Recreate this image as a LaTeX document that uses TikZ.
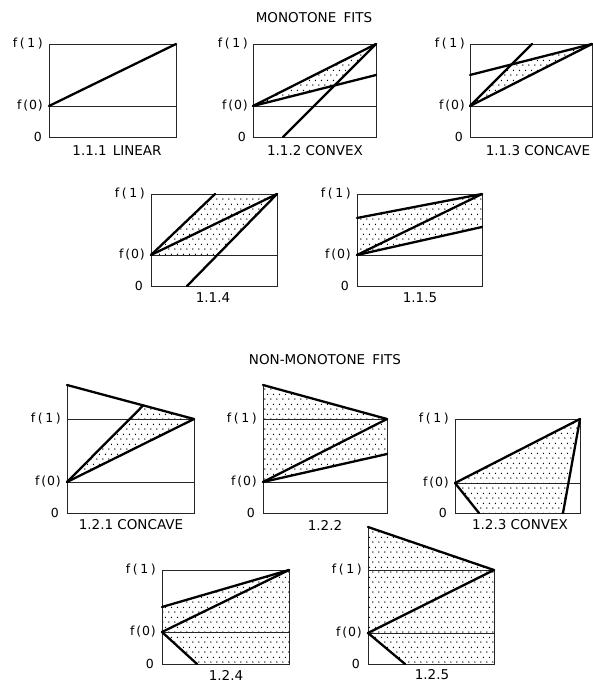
\documentclass[tikz,border=0pt]{standalone}
\usepackage{fontspec}
\setmainfont{DejaVu Sans}
\usetikzlibrary{patterns,calc}
\pgfdeclarepatternformonly{sdots}{\pgfqpoint{0pt}{0pt}}{\pgfqpoint{6pt}{9.6pt}}{\pgfqpoint{6pt}{9.6pt}}{%
  \pgfpathcircle{\pgfqpoint{1pt}{1pt}}{0.75pt}%
  \pgfpathcircle{\pgfqpoint{4pt}{5.8pt}}{0.75pt}%
  \pgfusepath{fill}}
\newcommand{\fone}{f\kern2.6pt(\kern2.6pt1\kern2.6pt)}
\newcommand{\fzero}{f\kern2pt(\kern0.8pt0\kern0.8pt)}
\begin{document}
\begin{tikzpicture}[x=1pt,y=-1pt,
  frame/.style={line width=0.9pt, draw=black!85},
  fitline/.style={line width=2.3pt, line cap=round, line join=round},
  shade/.style={pattern=sdots, pattern color=black},
  lab/.style={anchor=east, inner sep=0pt, font=\fontsize{12.5}{14}\selectfont},
  capt/.style={inner sep=0pt, font=\fontsize{13.5}{16}\selectfont},
  ttl/.style={inner sep=0pt, font=\fontsize{13.5}{16}\selectfont}]
\useasboundingbox[fill=white] (0,0) rectangle (593,682);

% titles
\node[ttl] (t1) at (314,18) {MONOTONE\hspace{3pt} FITS};
\node[ttl] (t2) at (325,360) {NON-MONOTONE\hspace{3pt} FITS};

% ---------- 1.1.1 ----------
\coordinate (a-tl) at (49,44); \coordinate (a-tr) at (176,44);
\coordinate (a-bl) at (49,137); \coordinate (a-br) at (176,137);
\coordinate (a-f0) at (49,106); \coordinate (a-f0r) at (176,106);
\draw[frame] (a-tl) rectangle (a-br);
\draw[frame] (a-f0) -- (a-f0r);
\draw[fitline] (a-f0) -- (a-tr);
\node[lab] (a-l1) at (43,44) {\fone};
\node[lab] (a-l0) at (43,106) {\fzero};
\node[lab] (a-lz) at (42,137) {0};
\node[capt] (a-c) at (117,151) {1.1.1\hspace{6pt}LINEAR};

% ---------- 1.1.2 ----------
\coordinate (b-tl) at (253,44); \coordinate (b-tr) at (376,44);
\coordinate (b-br) at (376,137);
\coordinate (b-f0) at (253,106); \coordinate (b-f0r) at (376,106);
\coordinate (b-r) at (376,75); \coordinate (b-s) at (283,137);
\coordinate (b-x) at (intersection of b-f0--b-r and b-s--b-tr);
\fill[shade] (b-f0) -- (b-tr) -- (b-x) -- cycle;
\draw[frame] (b-tl) rectangle (b-br);
\draw[frame] (b-f0) -- (b-f0r);
\draw[fitline] (b-f0) -- (b-tr);
\draw[fitline] (b-f0) -- (b-r);
\draw[fitline] (b-s) -- (b-tr);
\node[lab] (b-l1) at (248,44) {\fone};
\node[lab] (b-l0) at (248,106) {\fzero};
\node[lab] (b-lz) at (246,137) {0};
\node[capt] (b-c) at (315,151) {1.1.2 CONVEX};

% ---------- 1.1.3 ----------
\coordinate (c-tl) at (470,44); \coordinate (c-tr) at (592,44);
\coordinate (c-br) at (592,137);
\coordinate (c-f0) at (470,106); \coordinate (c-f0r) at (592,106);
\coordinate (c-l) at (470,75); \coordinate (c-s) at (532,44);
\coordinate (c-x) at (intersection of c-f0--c-s and c-l--c-tr);
\fill[shade] (c-f0) -- (c-x) -- (c-tr) -- cycle;
\draw[frame] (c-tl) rectangle (c-br);
\draw[frame] (c-f0) -- (c-f0r);
\draw[fitline] (c-f0) -- (c-tr);
\draw[fitline] (c-l) -- (c-tr);
\draw[fitline] (c-f0) -- (c-s);
\node[lab] (c-l1) at (465,44) {\fone};
\node[lab] (c-l0) at (465,106) {\fzero};
\node[lab] (c-lz) at (463,137) {0};
\node[capt] (c-c) at (538,151) {1.1.3 CONCAVE};

% ---------- 1.1.4 ----------
\coordinate (d-tl) at (151,194); \coordinate (d-tr) at (277,194);
\coordinate (d-br) at (277,286);
\coordinate (d-f0) at (151,255); \coordinate (d-f0r) at (277,255);
\coordinate (d-t) at (215,194); \coordinate (d-s) at (187,286);
\coordinate (d-x) at (intersection of d-f0--d-f0r and d-s--d-tr);
\fill[shade] (d-f0) -- (d-t) -- (d-tr) -- (d-x) -- cycle;
\draw[frame] (d-tl) rectangle (d-br);
\draw[frame] (d-f0) -- (d-f0r);
\draw[fitline] (d-f0) -- (d-t);
\draw[fitline] (d-f0) -- (d-tr);
\draw[fitline] (d-s) -- (d-tr);
\node[lab] (d-l1) at (145,194) {\fone};
\node[lab] (d-l0) at (145,255) {\fzero};
\node[lab] (d-lz) at (143,286) {0};
\node[capt] (d-c) at (213,298) {1.1.4};

% ---------- 1.1.5 ----------
\coordinate (e-tl) at (357,194); \coordinate (e-tr) at (482,194);
\coordinate (e-br) at (482,286);
\coordinate (e-f0) at (357,255); \coordinate (e-f0r) at (482,255);
\coordinate (e-l) at (357,218); \coordinate (e-r) at (482,227);
\fill[shade] (e-l) -- (e-tr) -- (e-r) -- (e-f0) -- cycle;
\draw[frame] (e-tl) rectangle (e-br);
\draw[frame] (e-f0) -- (e-f0r);
\draw[fitline] (e-l) -- (e-tr);
\draw[fitline] (e-f0) -- (e-tr);
\draw[fitline] (e-f0) -- (e-r);
\node[lab] (e-l1) at (351,194) {\fone};
\node[lab] (e-l0) at (351,255) {\fzero};
\node[lab] (e-lz) at (349,286) {0};
\node[capt] (e-c) at (420,298) {1.1.5};

% ---------- 1.2.1 ----------
\coordinate (f-tl) at (67,385); \coordinate (f-f1) at (67,419); \coordinate (f-tr) at (194,419);
\coordinate (f-bl) at (67,513); \coordinate (f-br) at (194,513);
\coordinate (f-f0) at (67,482); \coordinate (f-f0r) at (194,482);
\coordinate (f-q) at ($(f-tl)!0.6!(f-tr)$);
\fill[shade] (f-f0) -- (f-q) -- (f-tr) -- cycle;
\draw[frame] (f-tl) -- (f-bl) -- (f-br) -- (f-tr);
\draw[frame] (f-f1) -- (f-tr);
\draw[frame] (f-f0) -- (f-f0r);
\draw[fitline] (f-tl) -- (f-tr);
\draw[fitline] (f-f0) -- (f-tr);
\draw[fitline] (f-f0) -- (f-q);
\node[lab] (f-l1) at (61,419) {\fone};
\node[lab] (f-l0) at (61,482) {\fzero};
\node[lab] (f-lz) at (59,513) {0};
\node[capt] (f-c) at (131,525) {1.2.1 CONCAVE};

% ---------- 1.2.2 ----------
\coordinate (g-tl) at (263,385); \coordinate (g-f1) at (263,419); \coordinate (g-tr) at (387,419);
\coordinate (g-bl) at (263,513); \coordinate (g-br) at (387,513);
\coordinate (g-f0) at (263,482); \coordinate (g-f0r) at (387,482);
\coordinate (g-r) at (387,454);
\fill[shade] (g-tl) -- (g-tr) -- (g-r) -- (g-f0) -- cycle;
\draw[frame] (g-tl) -- (g-bl) -- (g-br) -- (g-tr);
\draw[frame] (g-f1) -- (g-tr);
\draw[frame] (g-f0) -- (g-f0r);
\draw[fitline] (g-tl) -- (g-tr);
\draw[fitline] (g-f0) -- (g-tr);
\draw[fitline] (g-f0) -- (g-r);
\node[lab] (g-l1) at (257,419) {\fone};
\node[lab] (g-l0) at (257,482) {\fzero};
\node[lab] (g-lz) at (255,513) {0};
\node[capt] (g-c) at (325,525) {1.2.2};

% ---------- 1.2.3 ----------
\coordinate (h-tl) at (455,419); \coordinate (h-tr) at (580,419);
\coordinate (h-br) at (580,513);
\coordinate (h-f0) at (455,483); \coordinate (h-f0r) at (580,483);
\coordinate (h-a) at (479,513); \coordinate (h-b) at (563,513);
\fill[shade] (h-f0) -- (h-tr) -- (h-b) -- (h-a) -- cycle;
\draw[frame] (h-tl) rectangle (h-br);
\draw[frame] (h-f0) -- (h-f0r);
\draw[fitline] (h-f0) -- (h-tr);
\draw[fitline] (h-f0) -- (h-a);
\draw[fitline] (h-tr) -- (h-b);
\node[lab] (h-l1) at (449,419) {\fone};
\node[lab] (h-l0) at (449,483) {\fzero};
\node[lab] (h-lz) at (447,513) {0};
\node[capt] (h-c) at (520,525) {1.2.3 CONVEX};

% ---------- 1.2.4 ----------
\coordinate (i-tl) at (162,570); \coordinate (i-tr) at (289,570);
\coordinate (i-br) at (289,664);
\coordinate (i-f0) at (162,632); \coordinate (i-f0r) at (289,632);
\coordinate (i-l) at (162,607); \coordinate (i-a) at (197,664);
\fill[shade] (i-l) -- (i-tr) -- (i-br) -- (i-a) -- (i-f0) -- cycle;
\draw[frame] (i-tl) rectangle (i-br);
\draw[frame] (i-f0) -- (i-f0r);
\draw[fitline] (i-l) -- (i-tr);
\draw[fitline] (i-f0) -- (i-tr);
\draw[fitline] (i-f0) -- (i-a);
\node[lab] (i-l1) at (156,570) {\fone};
\node[lab] (i-l0) at (156,632) {\fzero};
\node[lab] (i-lz) at (154,664) {0};
\node[capt] (i-c) at (226,675) {1.2.4};

% ---------- 1.2.5 ----------
\coordinate (j-tl) at (368,527); \coordinate (j-f1) at (368,570); \coordinate (j-tr) at (494,570);
\coordinate (j-bl) at (368,664); \coordinate (j-br) at (494,664);
\coordinate (j-f0) at (368,633); \coordinate (j-f0r) at (494,633);
\coordinate (j-a) at (405,664);
\fill[shade] (j-tl) -- (j-tr) -- (j-br) -- (j-a) -- (j-f0) -- cycle;
\draw[frame] (j-tl) -- (j-bl) -- (j-br) -- (j-tr);
\draw[frame] (j-f1) -- (j-tr);
\draw[frame] (j-f0) -- (j-f0r);
\draw[fitline] (j-tl) -- (j-tr);
\draw[fitline] (j-f0) -- (j-tr);
\draw[fitline] (j-f0) -- (j-a);
\node[lab] (j-l1) at (362,570) {\fone};
\node[lab] (j-l0) at (362,633) {\fzero};
\node[lab] (j-lz) at (360,664) {0};
\node[capt] (j-c) at (432,675) {1.2.5};
\end{tikzpicture}
\end{document}
